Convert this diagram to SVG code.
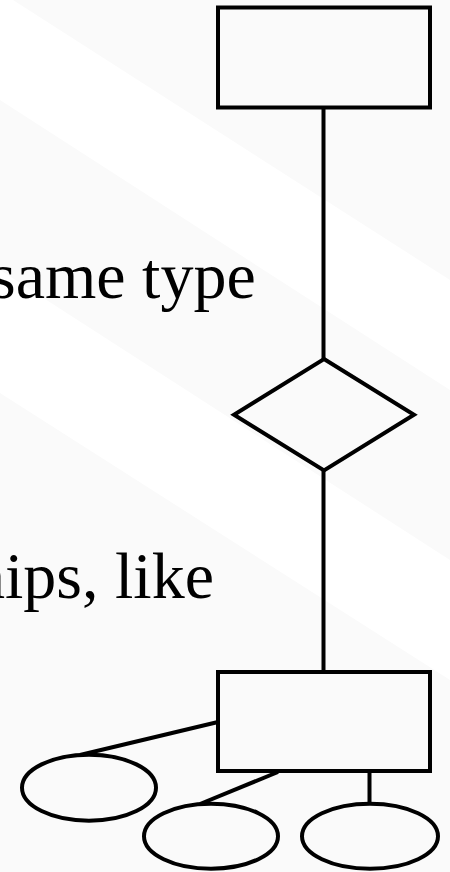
<svg xmlns="http://www.w3.org/2000/svg" width="450" height="872" viewBox="0 0 450 872">
  <style>
    .shape { fill: none; stroke: #000; stroke-width: 4; }
    .edge { stroke: #000; stroke-width: 4; fill: none; }
    .body { font-family: "Liberation Serif", "Times New Roman", serif; font-size: 66px; fill: #000; }
    .band { fill: #fafafa; }
  </style>
  <!-- soft diagonal background bands -->
  <rect width="450" height="872" fill="#ffffff"/>
  <g id="background">
    <polygon class="band" points="13,0 450,0 450,280"/>
    <polygon class="band" points="0,100 450,390 450,560 0,270"/>
    <polygon class="band" points="0,393 450,680 450,872 0,872"/>
  </g>

  <!-- slide text, running off the left edge -->
  <text class="body" x="-10" y="298">same type</text>
  <text class="body" x="-28" y="598">hips, like</text>

  <g id="connectors">
    <line class="edge" x1="323.5" y1="108" x2="323.5" y2="359"/>
    <line class="edge" x1="323.5" y1="470" x2="323.5" y2="673"/>
    <line class="edge" x1="80" y1="755" x2="218" y2="722"/>
    <line class="edge" x1="200" y1="804" x2="278" y2="772"/>
    <line class="edge" x1="369.5" y1="772" x2="369.5" y2="804"/>
  </g>

  <g id="entity-top">
    <rect class="shape" x="218" y="7.5" width="212" height="100"/>
  </g>
  <g id="relationship">
    <polygon class="shape" points="324,359 414,414.7 324,470.5 234,414.7"/>
  </g>
  <g id="entity-bottom">
    <rect class="shape" x="218" y="672" width="212" height="99"/>
  </g>
  <g id="attribute-left">
    <ellipse class="shape" cx="89" cy="787.7" rx="67" ry="33"/>
  </g>
  <g id="attribute-middle">
    <ellipse class="shape" cx="211" cy="836.2" rx="67" ry="32.5"/>
  </g>
  <g id="attribute-right">
    <ellipse class="shape" cx="370" cy="836.2" rx="68" ry="32.5"/>
  </g>
</svg>
